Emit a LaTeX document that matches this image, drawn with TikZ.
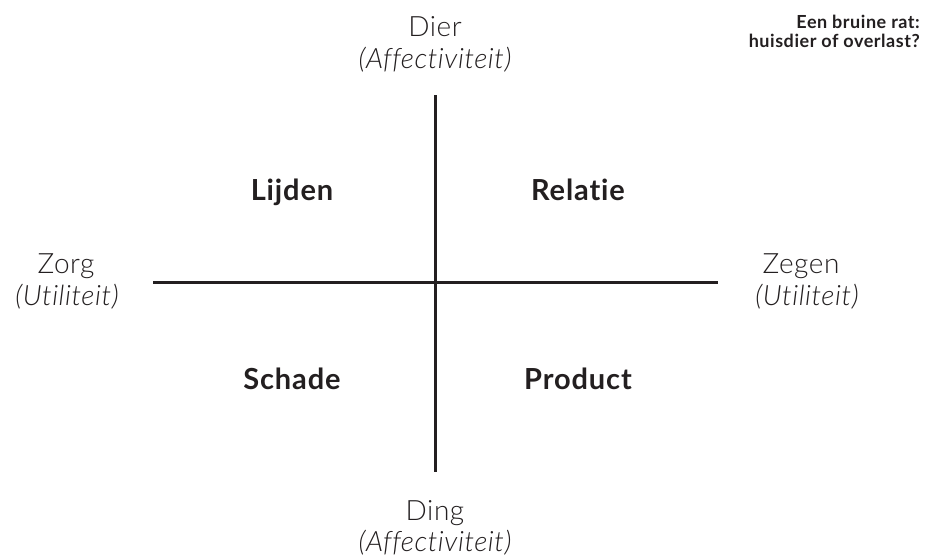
\documentclass[tikz,border=0pt]{standalone}
\usepackage{fontspec}
\setmainfont{Lato}[Ligatures={NoCommon}]
\newfontfamily\lightfont{Lato}[UprightFont=* Light, ItalicFont=* Light Italic, BoldFont=* Bold, Ligatures={NoCommon}, LetterSpace=2]
\newfontfamily\heavyfont{Lato}[UprightFont=* Bold, Ligatures={NoCommon}, LetterSpace=3]
\definecolor{ink}{HTML}{231F20}
\begin{document}
\begin{tikzpicture}[x=1pt,y=-1pt,
  axislbl/.style={anchor=base,text=ink,font=\lightfont\fontsize{28}{32}\selectfont,inner sep=0pt},
  axissub/.style={anchor=base,text=ink,font=\lightfont\fontsize{28}{32}\selectfont\itshape,inner sep=0pt},
  quad/.style={anchor=base,text=ink,font=\heavyfont\fontsize{29}{33}\selectfont,inner sep=0pt},
  titlelbl/.style={anchor=base east,text=ink,font=\heavyfont\fontsize{18}{21}\selectfont,inner sep=0pt},
  axisline/.style={draw=ink,line width=3pt}]
\useasboundingbox (0,0) rectangle (934,558);
\fill[white] (0,0) rectangle (934,558);
% axes
\coordinate (top) at (435,95);
\coordinate (bottom) at (435,472);
\coordinate (left) at (153,282);
\coordinate (right) at (718,282);
\draw[axisline] (top) -- (bottom);
\draw[axisline] (left) -- (right);
% axis labels
\node[axislbl] (dier) at (435,36) {Dier};
\node[axissub] (dieraff) at (435,68) {(Affectiviteit)};
\node[axislbl] (ding) at (435,520) {Ding};
\node[axissub] (dingaff) at (435,551) {(Affectiviteit)};
\node[axislbl] (zorg) at (66,273) {Zorg};
\node[axissub] (zorgut) at (67,305) {(Utiliteit)};
\node[axislbl] (zegen) at (801,273) {Zegen};
\node[axissub] (zegenut) at (807,305) {(Utiliteit)};
% quadrants
\node[quad] (lijden) at (292,200) {Lijden};
\node[quad] (relatie) at (578,200) {Relatie};
\node[quad] (schade) at (292,389) {Schade};
\node[quad] (product) at (578,389) {Product};
% title
\node[titlelbl] (t1) at (920,28) {Een bruine rat:};
\node[titlelbl] (t2) at (920,47) {huisdier of overlast?};
\end{tikzpicture}
\end{document}
